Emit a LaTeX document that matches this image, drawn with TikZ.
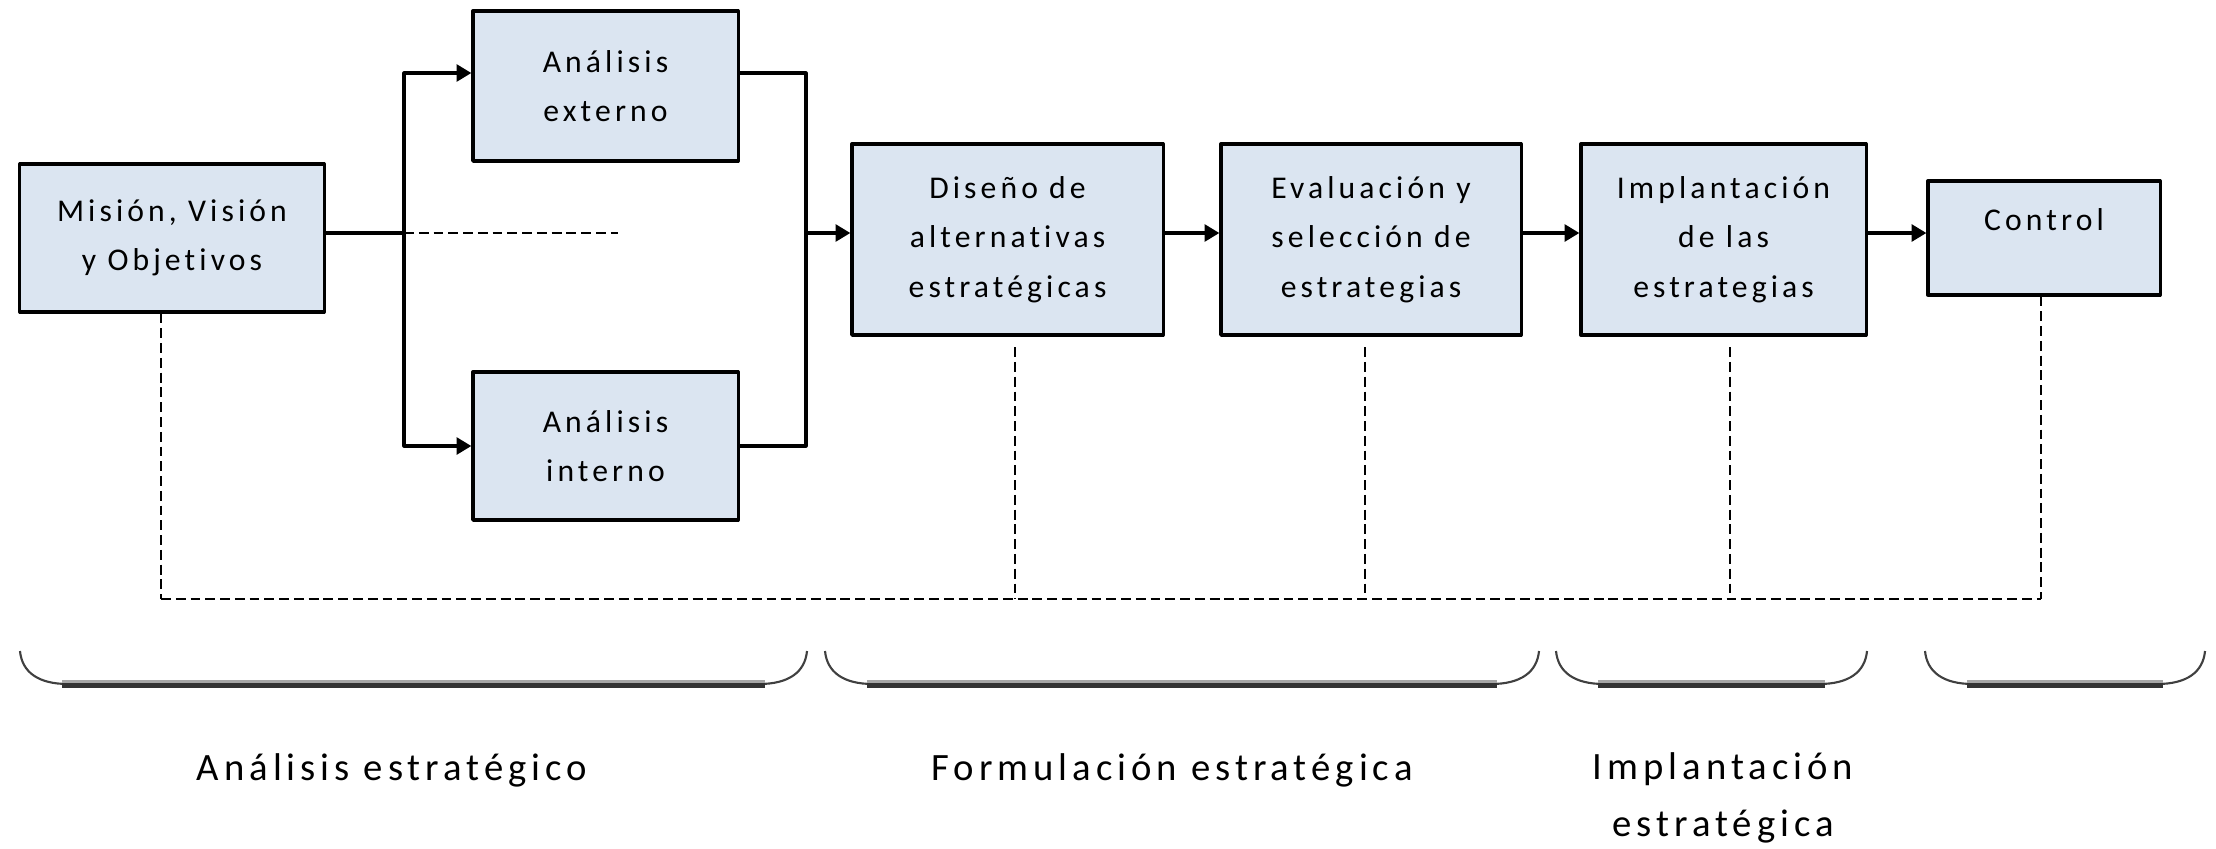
\documentclass[tikz,border=0pt]{standalone}
\usepackage{fontspec}
\setmainfont[LetterSpace=13, Ligatures={NoCommon}]{Carlito}
\usetikzlibrary{arrows.meta}
\definecolor{cajaazul}{HTML}{DBE5F1}
\tikzset{
 caja/.style={draw=black, line width=0.9pt, fill=cajaazul, align=center, inner sep=0pt, font=\fontsize{9}{14}\selectfont},
 flecha/.style={line width=0.9pt},
 punteada/.style={line width=0.55pt, dash pattern=on 2.8pt off 1.4pt},
 etiqueta/.style={align=center, font=\fontsize{11}{16.2}\selectfont}
}
\begin{document}
\begin{tikzpicture}[x=0.01cm, y=-0.01cm, >={Triangle[length=4.2pt,width=4.8pt]}, line join=round]
\useasboundingbox (0,0) rectangle (2216,848);
% Cajas
\node[caja, minimum width=3.04cm, minimum height=1.48cm] (mision) at (172,238) {Misión, Visión\\y Objetivos};
\node[caja, minimum width=2.65cm, minimum height=1.50cm] (externo) at (605.5,86) {Análisis\\externo};
\node[caja, minimum width=2.65cm, minimum height=1.48cm] (interno) at (605.5,446) {Análisis\\interno};
\node[caja, minimum width=3.11cm, minimum height=1.91cm] (diseno) at (1007.5,239.5) {Diseño de\\alternativas\\estratégicas};
\node[caja, minimum width=3.00cm, minimum height=1.91cm] (evaluacion) at (1371,239.5) {Evaluación y\\selección de\\estrategias};
\node[caja, minimum width=2.85cm, minimum height=1.91cm] (implanta) at (1723.5,239.5) {Implantación\\de las\\estrategias};
\node[caja, minimum width=2.32cm, minimum height=1.14cm, text depth=0.36cm] (control) at (2044,238) {Control};
% Puntos de las ramas
\coordinate (nivel) at (0,233);
\coordinate (alto) at (0,73);
\coordinate (divide) at (404,233);
\coordinate (une) at (806,233);
\coordinate (finpunto) at (618,233);
% Flechas
\draw[flecha] (mision.east |- nivel) -- (divide);
\draw[flecha,->] (divide) |- (externo.west |- alto);
\draw[flecha,->] (divide) |- (interno.west);
\draw[flecha] (externo.east |- alto) -| (une);
\draw[flecha] (interno.east) -| (une);
\draw[flecha,->] (une) -- (diseno.west |- nivel);
\draw[flecha,->] (diseno.east |- nivel) -- (evaluacion.west |- nivel);
\draw[flecha,->] (evaluacion.east |- nivel) -- (implanta.west |- nivel);
\draw[flecha,->] (implanta.east |- nivel) -- (control.west |- nivel);
\draw[punteada] (divide) -- (finpunto);
% Lineas punteadas de abajo
\foreach \n/\x/\ini in {mision/161/0, diseno/1015/3, evaluacion/1365/3, implanta/1730/3, control/2041/0}
\draw[punteada] ([yshift=-\ini pt]\n.south -| \x,0) -- (\x,599);
\draw[punteada] (161,599) -- (2041,599);
% Llaves
\foreach \a/\b in {20/807, 825/1539, 1556/1867, 1925/2205}{
\draw[line width=0.6pt, black!75] (\a,651) .. controls (\a+2,672) and (\a+18,684) .. (\a+48,684);
\draw[line width=0.6pt, black!75] (\b,651) .. controls (\b-2,672) and (\b-18,684) .. (\b-48,684);
\draw[line width=1pt, black!35] (\a+42,681.5) -- (\b-42,681.5);
\draw[line width=1.3pt, black!80] (\a+42,685.5) -- (\b-42,685.5);
}
% Etiquetas
\node[etiqueta] (lanalisis) at (392,770) {Análisis estratégico};
\node[etiqueta] (lformula) at (1172,770) {Formulación estratégica};
\node[etiqueta] (limplanta) at (1723,798) {Implantación\\estratégica};
\end{tikzpicture}
\end{document}
